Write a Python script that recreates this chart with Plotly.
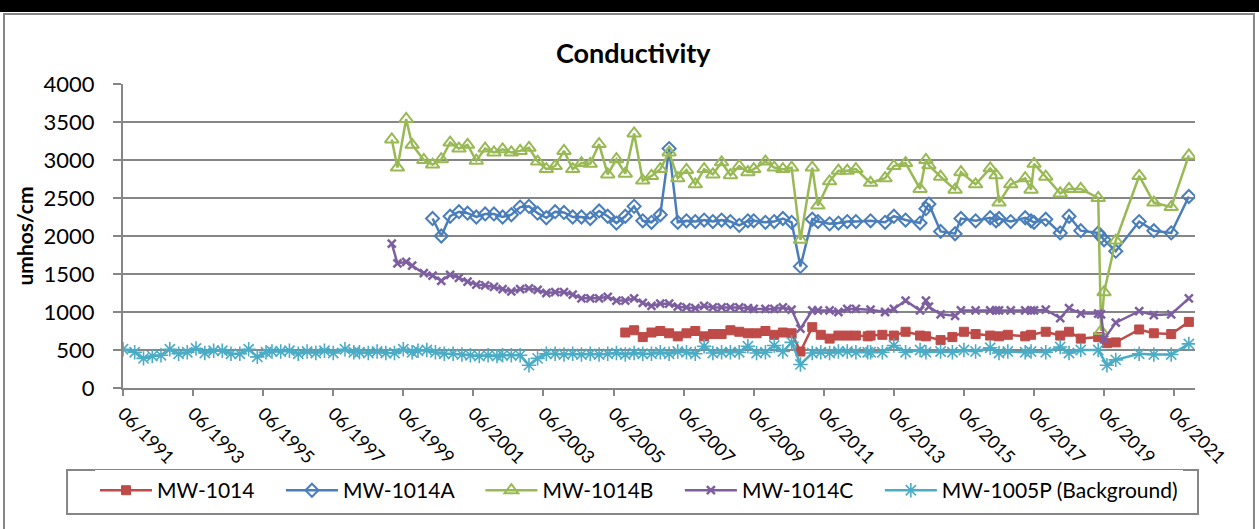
import plotly.graph_objects as go

# sampling dates (YYYY-MM)
dates_q = ['1999-02', '1999-04', '1999-07', '1999-09', '2000-01', '2000-04', '2000-07', '2000-10',
           '2001-01', '2001-04', '2001-07', '2001-10', '2002-01', '2002-04', '2002-07', '2002-10',
           '2003-01', '2003-04', '2003-07', '2003-10', '2004-01', '2004-04', '2004-07', '2004-10',
           '2005-01', '2005-04', '2005-07', '2005-10', '2006-01', '2006-04', '2006-07', '2006-10',
           '2007-01', '2007-04', '2007-07', '2007-10', '2008-01', '2008-04', '2008-07', '2008-10',
           '2009-01', '2009-04', '2009-06', '2009-10', '2010-01', '2010-04', '2010-07', '2010-10']
dates_c = ['2011-02', '2011-04', '2011-08', '2011-11', '2012-02', '2012-05', '2012-10', '2013-03',
           '2013-06', '2013-10', '2014-03', '2014-05', '2014-06', '2014-10', '2015-03', '2015-05',
           '2015-10', '2016-03', '2016-05', '2016-06', '2016-10', '2017-03', '2017-05', '2017-06',
           '2017-10', '2018-03', '2018-06', '2018-10', '2019-04', '2019-05', '2019-06', '2019-10',
           '2020-06', '2020-11', '2021-05', '2021-11']
dates_red = ['2005-10', '2006-01', '2006-04', '2006-07', '2006-10', '2007-01', '2007-04', '2007-07',
             '2007-10', '2008-01', '2008-04', '2008-07', '2008-10', '2009-01', '2009-04', '2009-07',
             '2009-10', '2010-01', '2010-04', '2010-07', '2010-10', '2011-02', '2011-05', '2011-08',
             '2011-11', '2012-02', '2012-05', '2012-09', '2012-10', '2013-02', '2013-06', '2013-10',
             '2014-03', '2014-05', '2014-10', '2015-02', '2015-06', '2015-10', '2016-03', '2016-06',
             '2016-09', '2017-03', '2017-05', '2017-10', '2018-03', '2018-06', '2018-10', '2019-04',
             '2019-07', '2019-10', '2020-06', '2020-11', '2021-05', '2021-11']
dates_bg = ['1991-06', '1991-10', '1992-01', '1992-04', '1992-07', '1992-10', '1993-01', '1993-04',
            '1993-07', '1993-10', '1994-01', '1994-04', '1994-07', '1994-10', '1995-01', '1995-04',
            '1995-07', '1995-09', '1995-12', '1996-03', '1996-06', '1996-09', '1996-12', '1997-03',
            '1997-06', '1997-10', '1998-01', '1998-03', '1998-06', '1998-09', '1998-12', '1999-03',
            '1999-06', '1999-09', '1999-11', '2000-02', '2000-05', '2000-08', '2000-11', '2001-02',
            '2001-05', '2001-08', '2001-11', '2002-02', '2002-04', '2002-07', '2002-10', '2003-01',
            '2003-04', '2003-07', '2003-10', '2004-01', '2004-04', '2004-07', '2004-10', '2005-01',
            '2005-04', '2005-07', '2005-10', '2006-01', '2006-04', '2006-07', '2006-10', '2007-01',
            '2007-04', '2007-07', '2007-10'] + dates_red[9:]

# conductivity values (umhos/cm)
mw1014 = [730, 760, 670, 730, 750, 720, 680, 720, 750, 680,
          710, 710, 760, 740, 720, 720, 750, 700, 730, 720,
          480, 800, 700, 650, 690, 690, 690, 680, 690, 700,
          690, 740, 690, 680, 630, 670, 740, 710, 690, 680,
          700, 680, 700, 740, 690, 740, 650, 670, 590, 600,
          770, 720, 710, 870]
mw1014a = [2230, 2000, 2260, 2320, 2300, 2250, 2290, 2290, 2250, 2280,
           2380, 2390, 2300, 2240, 2320, 2310, 2250, 2250, 2230, 2330,
           2260, 2170, 2260, 2390, 2200, 2180, 2280, 3150, 2180, 2200,
           2190, 2210, 2190, 2210, 2190, 2140, 2200, 2200, 2180, 2190,
           2230, 2180, 1600,
           2220, 2190, 2160, 2170, 2190, 2190, 2200, 2180, 2260, 2210,
           2170, 2360, 2420, 2060, 2030, 2230, 2200, 2240, 2200, 2230,
           2190, 2240, 2200, 2180, 2220, 2040, 2260, 2070, 2040, 1990,
           1950, 1800, 2190, 2070, 2040, 2520]
mw1014b = [3270, 2900, 3540, 3200, 3000, 2940, 3010, 3230, 3150, 3200,
           2990, 3150, 3100, 3140, 3100, 3120, 3160, 2980, 2880, 2920,
           3120, 2880, 2960, 2950, 3210, 2810, 3010, 2820, 3350, 2730,
           2790, 2880, 3100, 2760, 2870, 2680, 2880, 2810, 2970, 2800,
           2920, 2840, 2880, 2980, 2900, 2880, 2900, 1950,
           2900, 2400, 2720, 2860, 2860, 2880, 2700, 2760, 2920, 2960,
           2620, 3000, 2930, 2780, 2610, 2840, 2680, 2890, 2800, 2440,
           2680, 2760, 2610, 2950, 2780, 2560, 2620, 2620, 2500, 750,
           1260, 1940, 2790, 2440, 2380, 3060]
mw1014c = [1900, 1640, 1660, 1610, 1510, 1480, 1410, 1490, 1450, 1400,
           1360, 1350, 1330, 1300, 1270, 1300, 1310, 1290, 1250, 1260,
           1260, 1230, 1180, 1180, 1180, 1200, 1150, 1150, 1180, 1120,
           1080, 1110, 1110, 1070, 1060, 1050, 1080, 1060, 1060, 1060,
           1060, 1050, 1040, 1040, 1040, 1060, 1030, 780,
           1020, 1020, 1020, 1000, 1040, 1040, 1030, 1000, 1040, 1150,
           1020, 1150, 1070, 970, 950, 1020, 1020, 1020, 1020, 1020,
           1020, 1020, 1020, 1020, 1030, 920, 1050, 980, 980, 970,
           640, 860, 1010, 960, 970, 1180]
mw1005p = [510, 470, 390, 420, 430, 510, 450, 470, 520, 460,
           490, 490, 450, 450, 510, 410, 470, 480, 480, 490,
           450, 480, 460, 490, 460, 510, 470, 470, 460, 480,
           460, 460, 510, 470, 490, 500, 470, 450, 450, 440,
           430, 420, 430, 420, 430, 430, 430, 300, 390, 450,
           450, 440, 450, 440, 450, 440, 450, 460, 440, 460,
           450, 450, 470, 450, 480, 470, 450,
           550, 460, 470, 470, 470, 550, 460, 470, 560, 480,
           600, 310, 460, 470, 460, 480, 480, 470, 470, 470,
           470, 560, 470, 500, 470, 480, 470, 500, 480, 530,
           460, 480, 470, 480, 470, 540, 460, 500, 500, 300,
           370, 450, 440, 440, 580]

pad = '\u00a0' * 4  # extra room between legend entries
series = [
    ('MW-1014' + pad, dates_red, mw1014, '#BE4B48', 'square', 9, 1),
    ('MW-1014A' + pad, dates_q[5:] + dates_c, mw1014a, '#4A7EBB', 'diamond-open', 10, 2),
    ('MW-1014B' + pad, dates_q + dates_c, mw1014b, '#98B954', 'triangle-up-open', 12, 2),
    ('MW-1014C' + pad, dates_q + dates_c, mw1014c, '#7D5FA0', 'x-thin-open', 8, 2.5),
    ('MW-1005P (Background)', dates_bg, mw1005p, '#4BACC6', 'asterisk-open', 12, 1.6),
]

fig = go.Figure()
for name, x, y, color, symbol, size, lw in series:
    fig.add_trace(go.Scatter(
        x=x, y=y, name=name, mode='lines+markers',
        line=dict(color=color, width=2.5),
        marker=dict(symbol=symbol, size=size, color=color, line=dict(color=color, width=lw)),
    ))

grey = '#868686'
fig.update_layout(
    width=1259, height=529,
    margin=dict(l=123, r=64, t=84, b=141),
    paper_bgcolor='white', plot_bgcolor='white',
    font=dict(family='Lato', color='black'),
    title=dict(text='<b>Conductivity</b>', font=dict(size=27, family='Lato'),
               x=0.503, xanchor='center', y=0.898, yanchor='middle'),
    showlegend=True,
    legend=dict(orientation='h', x=-0.0261, xanchor='left', y=-0.27, yanchor='top',
                borderwidth=0, font=dict(size=21), itemwidth=52, traceorder='normal'),
    shapes=[
        # black strip at the very top
        dict(type='rect', xref='paper', yref='paper', x0=-0.12, x1=1.07, y0=1.237, y1=1.30,
             fillcolor='black', line=dict(width=0), layer='below'),
        # chart frame
        dict(type='rect', xref='paper', yref='paper', x0=-0.111, x1=1.055, y0=-0.50, y1=1.2303,
             fillcolor='rgba(0,0,0,0)', line=dict(color=grey, width=2), layer='below'),
        # legend box
        dict(type='rect', xref='paper', yref='paper', x0=-0.0522, x1=1.0028, y0=-0.4145, y1=-0.2697,
             fillcolor='rgba(0,0,0,0)', line=dict(color=grey, width=2), layer='below'),
    ],
)
fig.update_xaxes(
    type='date', range=['1991-06-01', '2022-01-04'],
    tick0='1991-06-01', dtick='M24', tickformat='%m/%Y', tickangle=45,
    tickfont=dict(size=18), ticks='outside', ticklen=6, tickcolor=grey, tickwidth=2,
    showline=True, linecolor=grey, linewidth=2, showgrid=False, zeroline=False,
)
fig.update_yaxes(
    range=[0, 4000], dtick=500, tickfont=dict(size=22),
    ticks='outside', ticklen=8, tickcolor=grey, tickwidth=2, ticklabelstandoff=14,
    showline=True, linecolor=grey, linewidth=2,
    showgrid=True, gridcolor=grey, gridwidth=2, zeroline=False,
    title=dict(text='<b>umhos/cm</b>', font=dict(size=21), standoff=4),
)

fig.write_html('out.html', config={'displayModeBar': False},
               post_script="document.body.style.margin='0';")
